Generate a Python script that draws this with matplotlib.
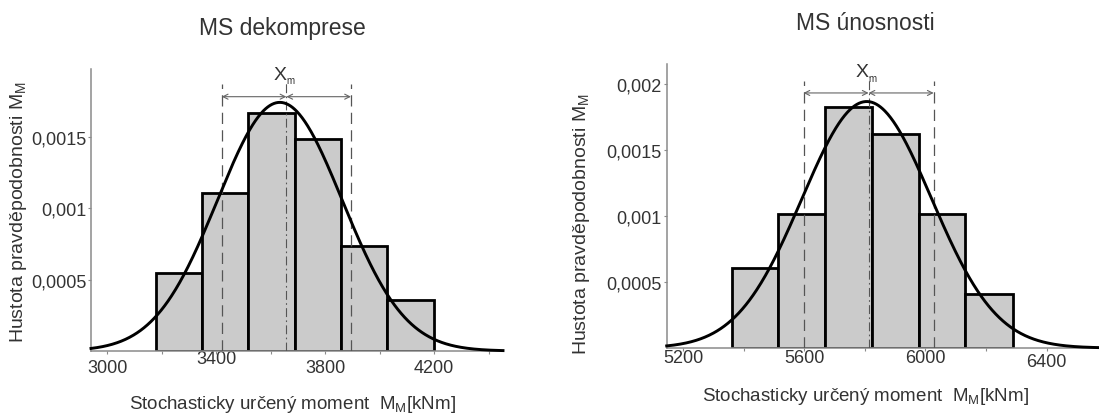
import numpy as np
import matplotlib
matplotlib.use("Agg")
import matplotlib.pyplot as plt
from matplotlib.ticker import FixedLocator, FuncFormatter, MultipleLocator

plt.rcParams['font.family'] = ['Liberation Sans', 'DejaVu Sans']
plt.rcParams['mathtext.fontset'] = 'custom'
plt.rcParams['mathtext.rm'] = 'Liberation Sans'

# ---------------- data ----------------
titles = ["MS dekomprese", "MS únosnosti"]

dek_bin_edges = [3178, 3348, 3518, 3688, 3858, 4028, 4198]
dek_density = [0.000548, 0.001109, 0.001667, 0.001483, 0.000736, 0.000360]
dek_fit_mean, dek_fit_std = 3634, 229
dek_xm, dek_sd = 3658, 237
dek_xticks = [3000, 3400, 3800, 4200]
dek_yticks = [0.0005, 0.001, 0.0015]

uno_bin_edges = [5360, 5514, 5669, 5824, 5978, 6132, 6288]
uno_density = [0.000607, 0.001010, 0.001821, 0.001622, 0.001010, 0.000407]
uno_fit_mean, uno_fit_std = 5806, 214
uno_xm, uno_sd = 5812, 215
uno_xticks = [5200, 5600, 6000, 6400]
uno_yticks = [0.0005, 0.001, 0.0015, 0.002]

ylabel_text = r"Hustota pravděpodobnosti M$_{\mathregular{M}}$"
xlabel_text = r"Stochasticky určený moment  M$_{\mathregular{M}}$[kNm]"

TXT = "#333333"
SPINE = "#8a8a8a"

fig = plt.figure(figsize=(10.99, 4.14), dpi=100)


def panel(rect, edges, dens, mu, sd_fit, xm, sd, xlim, ylim, xticks, yticks,
          xtick_pads, dash_top, arrow_y, label_y, ylab_pos, xlab_pos):
    ax = fig.add_axes(rect)
    edges = np.asarray(edges, float)
    widths = np.diff(edges)
    ax.bar(edges[:-1], dens, width=widths, align='edge', color='#cbcbcb',
           edgecolor='black', linewidth=2.0, zorder=2)
    xs = np.linspace(xlim[0], xlim[1], 600)
    ys = np.exp(-0.5 * ((xs - mu) / sd_fit) ** 2) / (sd_fit * np.sqrt(2 * np.pi))
    ax.plot(xs, ys, color='black', lw=2.1, zorder=5, clip_on=False)
    # +- sigma dashed lines and mean dash-dot line
    for xv in (xm - sd, xm + sd):
        ax.plot([xv, xv], [0, dash_top], color='#555555', lw=0.9,
                dashes=(9, 5), zorder=4)
    ax.plot([xm, xm], [0, dash_top * 1.012], color='#555555', lw=0.8,
            dashes=(8, 3, 1.5, 3), zorder=4)
    for a, b in ((xm - sd, xm), (xm, xm + sd)):
        ax.annotate('', xy=(a, arrow_y), xytext=(b, arrow_y),
                    arrowprops=dict(arrowstyle='<->', color='#666666', lw=0.8,
                                    shrinkA=0, shrinkB=0,
                                    mutation_scale=9), zorder=4)
    ax.text(xm, label_y, "X", ha='right', va='center', fontsize=14, color=TXT)
    ax.text(xm, label_y - (ylim[1] * 0.02), "m", ha='left', va='center',
            fontsize=7, color=TXT)

    ax.set_xlim(*xlim)
    ax.set_ylim(*ylim)
    for s in ('top', 'right'):
        ax.spines[s].set_visible(False)
    for s in ('left', 'bottom'):
        ax.spines[s].set_color(SPINE)
        ax.spines[s].set_linewidth(1.1)
    ax.xaxis.set_major_locator(FixedLocator(xticks))
    ax.xaxis.set_minor_locator(MultipleLocator(200))
    ax.yaxis.set_major_locator(FixedLocator(yticks))
    ax.yaxis.set_major_formatter(
        FuncFormatter(lambda v, p: f"{v:g}".replace('.', ',')))
    ax.tick_params(axis='both', which='both', direction='out', length=2.5,
                   width=0.8, color=SPINE, labelcolor=TXT, labelsize=13)
    ax.tick_params(axis='y', pad=1)
    for tick, pad in zip(ax.xaxis.get_major_ticks(), xtick_pads):
        tick.set_pad(pad)
    ax.set_ylabel(ylabel_text, fontsize=14, color=TXT)
    ax.yaxis.set_label_coords(*ylab_pos)
    ax.yaxis.label.set_va('center')
    ax.set_xlabel(xlabel_text, fontsize=13.5, color=TXT)
    ax.xaxis.set_label_coords(*xlab_pos)
    ax.xaxis.label.set_va('center')
    return ax


panel([91 / 1099, 62 / 414, 412 / 1099, 282 / 414],
      dek_bin_edges, dek_density, dek_fit_mean, dek_fit_std, dek_xm, dek_sd,
      (2941, 4453), (0, 0.001976), dek_xticks, dek_yticks,
      [3.2, -3.0, 3.3, 3.3], 0.00187, 0.001782, 0.00194,
      (-0.177, 0.497), (0.488, -0.187))

panel([666.7 / 1099, 65 / 414, 431.3 / 1099, 284 / 414],
      uno_bin_edges, uno_density, uno_fit_mean, uno_fit_std, uno_xm, uno_sd,
      (5145, 6570), (0, 0.002148), uno_xticks, uno_yticks,
      [-1.5, -1.7, -1.7, 1.0], 0.002022, 0.001929, 0.002088,
      (-0.1975, 0.44), (0.461, -0.169))

fig.text(282 / 1099, 1 - 29 / 414, titles[0], ha='center', va='center',
         fontsize=16.5, color=TXT)
fig.text(865 / 1099, 1 - 23 / 414, titles[1], ha='center', va='center',
         fontsize=16.5, color=TXT)

fig.savefig("out.png", dpi=100, facecolor='white')
